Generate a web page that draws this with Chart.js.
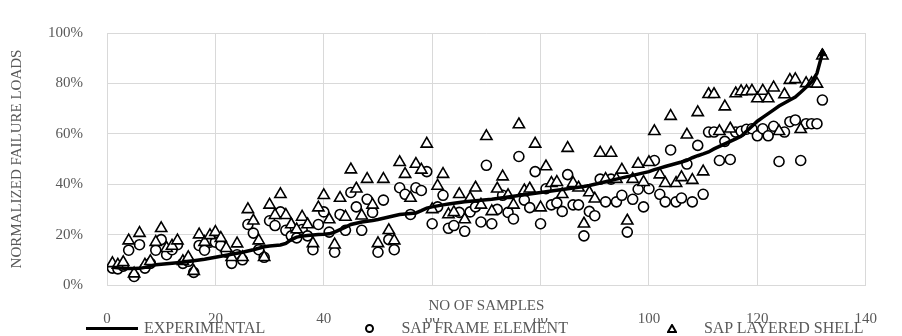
<!DOCTYPE html>
<html>
<head>
<meta charset="utf-8">
<title>Normalized failure loads</title>
<script src="https://cdn.jsdelivr.net/npm/chart.js@4"></script>
<style>
  body { margin: 0; background: #fff; }
  #wrap { position: relative; width: 902px; height: 336px; }
  #legend {
    position: absolute; left: 86px; top: 320px;
    display: flex; gap: 78px;
    font: 16px "Liberation Serif", "Times New Roman", serif;
    color: #595959; line-height: 16px; white-space: nowrap;
  }
  .item { display: flex; align-items: center; }
  .sym { width: 52px; height: 16px; display: flex; align-items: center; justify-content: center; margin-right: 6px; }
  .sym.line span { width: 52px; height: 3px; background: #000; }
  .sym.circle span { width: 5px; height: 5px; border: 2px solid #000; border-radius: 50%; }
</style>
</head>
<body>
<div id="wrap">
  <canvas id="chart" width="902" height="336"></canvas>
  <div id="legend"></div>
</div>
<script>
// EIXOS
const xTitle = "NO OF SAMPLES";
const yTitle = "NORMALIZED FAILURE LOADS";
const xTicks = [0, 20, 40, 60, 80, 100, 120, 140];
const yTicks = [0, 20, 40, 60, 80, 100];

// ENSAIOS (% da carga de rotura, amostras ordenadas)
const experimental = [
    7.0, 6.8, 6.6, 6.5, 6.5, 6.6, 7.0, 7.5, 8.0, 8.2,
    8.4, 8.6, 8.8, 9.0, 9.3, 9.6, 9.9, 10.2, 10.6, 11.0,
    11.4, 11.8, 12.2, 12.6, 13.0, 13.5, 14.0, 14.6, 15.2, 15.5,
    15.7, 15.9, 16.5, 18.0, 19.0, 19.4, 19.6, 19.8, 20.0, 20.1,
    20.3, 21.0, 22.0, 23.0, 24.0, 24.5, 25.0, 25.3, 25.6, 26.0,
    26.5, 27.0, 27.5, 28.0, 28.2, 28.4, 28.6, 29.5, 30.5, 31.0,
    31.4, 31.8, 32.1, 32.4, 32.7, 33.0, 33.2, 33.4, 33.6, 33.8,
    34.0, 34.3, 34.6, 34.9, 35.2, 35.5, 35.8, 36.1, 36.4, 36.7,
    37.0, 37.3, 37.6, 37.9, 38.2, 38.5, 38.8, 39.1, 39.5, 40.0,
    40.5, 41.0, 41.5, 42.0, 42.5, 43.0, 43.5, 44.0, 44.5, 45.0,
    45.8, 46.4, 47.0, 47.6, 48.2, 48.8, 49.5, 50.5, 51.3, 52.0,
    52.8, 54.0, 55.0, 56.0, 57.0, 58.0, 59.0, 61.0, 63.0, 65.0,
    66.5, 68.0, 69.5, 71.0, 72.2, 73.4, 74.6, 76.5, 78.5, 80.5,
    84.0, 92.0
];

// SAP - ELEMENTO DE PÓRTICO
const sapFrame = [
    6.7, 6.4, 7.5, 13.8, 3.4, 16.0, 6.7, 8.6, 13.8, 18.0,
    12.0, 14.0, 16.0, 8.6, 9.4, 5.0, 15.7, 13.8, 17.0, 17.0,
    15.7, 13.0, 8.6, 12.0, 10.0, 24.0, 20.6, 14.0, 11.0, 25.5,
    23.6, 29.0, 21.7, 19.5, 18.7, 22.0, 19.5, 14.0, 24.0, 29.0,
    21.0, 13.0, 28.0, 21.7, 36.7, 31.0, 21.7, 34.0, 28.8, 13.0,
    33.7, 18.0, 14.0, 38.6, 36.0, 28.0, 38.6, 37.5, 45.0, 24.3,
    31.0, 35.6, 22.5, 23.6, 28.8, 21.3, 29.0, 31.0, 25.0, 47.5,
    24.3, 30.0, 35.6, 28.8, 26.2, 51.0, 33.7, 30.7, 45.0, 24.3,
    38.2, 31.8, 32.6, 29.2, 43.8, 31.8, 31.8, 19.5, 29.2, 27.5,
    42.0, 33.0, 42.0, 33.0, 35.6, 21.0, 34.0, 38.0, 31.0, 38.2,
    49.4, 36.0, 33.0, 53.6, 33.0, 34.5, 48.0, 33.0, 55.4, 36.0,
    60.7, 60.7, 49.4, 57.0, 49.8, 60.7, 61.0, 61.8, 62.0, 59.2,
    62.0, 59.2, 63.0, 49.0, 60.7, 64.8, 65.5, 49.4, 64.0, 64.0,
    64.0, 73.4
];

// SAP - CASCA MULTICAMADA
const sapShell = [
    8.6, 8.0, 9.0, 17.6, 4.5, 20.6, 8.0, 9.4, 17.0, 22.5,
    14.6, 15.5, 17.6, 9.4, 11.0, 5.5, 20.0, 17.0, 19.7, 21.0,
    18.6, 14.6, 11.0, 16.4, 11.0, 30.0, 25.5, 17.6, 11.0, 31.8,
    27.7, 36.0, 27.7, 24.0, 22.0, 27.0, 24.0, 16.5, 30.7, 35.6,
    26.0, 16.0, 34.5, 27.0, 45.8, 38.2, 27.5, 42.0, 31.8, 16.5,
    42.0, 21.7, 17.6, 48.7, 44.0, 34.5, 48.0, 45.7, 56.0, 30.0,
    39.3, 44.0, 28.0, 28.8, 36.0, 26.0, 34.5, 38.6, 31.8, 59.0,
    29.2, 38.2, 43.0, 35.6, 31.8, 63.7, 37.5, 38.2, 56.0, 30.7,
    47.0, 40.4, 40.8, 36.0, 54.3, 40.4, 38.6, 24.3, 36.7, 34.2,
    52.4, 42.0, 52.4, 42.0, 45.7, 25.5, 42.0, 48.0, 40.8, 48.7,
    61.0, 43.8, 40.4, 67.0, 40.4, 42.7, 59.6, 41.6, 68.5, 45.0,
    75.7, 75.7, 61.0, 70.8, 62.0, 76.0, 76.8, 76.8, 77.0, 74.0,
    77.0, 74.0, 78.3, 61.0, 75.6, 81.3, 81.6, 61.8, 80.0, 80.0,
    79.8, 91.0
];

const font = { family: "'Liberation Serif', 'Times New Roman', serif", size: 15 };
const textColor = "#595959";
const gridColor = "#d9d9d9";

// nº da amostra no eixo x
function toPoints(values) {
    return values.map((v, i) => ({ x: i + 1, y: v }));
}

// título do eixo x por cima das etiquetas, com fundo branco
const xTitlePlugin = {
    id: "xTitle",
    afterDraw(chart) {
        const { ctx, chartArea } = chart;
        ctx.save();
        ctx.font = `${font.size}px ${font.family}`;
        const w = ctx.measureText(xTitle).width;
        const cx = (chartArea.left + chartArea.right) / 2;
        const cy = chartArea.bottom + 21;
        ctx.fillStyle = "#fff";
        ctx.fillRect(cx - w / 2 - 4, cy - 11, w + 8, 23);
        ctx.fillStyle = textColor;
        ctx.textAlign = "center";
        ctx.textBaseline = "middle";
        ctx.fillText(xTitle, cx, cy);
        ctx.restore();
    }
};

// LEGENDA
function buildLegend(chart) {
    const box = document.getElementById("legend");
    chart.data.datasets.forEach(ds => {
        const item = document.createElement("div");
        item.className = "item";
        const sym = document.createElement("div");
        if (ds.showLine) {
            sym.className = "sym line";
            sym.innerHTML = "<span></span>";
        } else if (ds.pointStyle === "circle") {
            sym.className = "sym circle";
            sym.innerHTML = "<span></span>";
        } else {
            sym.className = "sym";
            sym.innerHTML = '<svg width="10" height="9"><polygon points="5,1 9,8 1,8" fill="none" stroke="#000" stroke-width="2"/></svg>';
        }
        const label = document.createElement("span");
        label.innerText = ds.label;
        item.appendChild(sym);
        item.appendChild(label);
        box.appendChild(item);
    });
}

// GRÁFICO
function loadChart() {
    const last = experimental.length - 1;

    const chart = new Chart(document.getElementById("chart"), {
        type: "scatter",
        data: {
            datasets: [
                {
                    label: "EXPERIMENTAL",
                    data: toPoints(experimental),
                    showLine: true,
                    borderColor: "#000",
                    backgroundColor: "#000",
                    borderWidth: 3.5,
                    pointStyle: "triangle",
                    pointRadius: ctx => (ctx.dataIndex === last ? 5 : 0),
                    pointBorderWidth: 1,
                    order: 0
                },
                {
                    label: "SAP FRAME ELEMENT",
                    data: toPoints(sapFrame),
                    pointStyle: "circle",
                    pointRadius: 5,
                    pointBorderWidth: 1.6,
                    borderColor: "#000",
                    backgroundColor: "#fff",
                    order: 2
                },
                {
                    label: "SAP LAYERED SHELL",
                    data: toPoints(sapShell),
                    pointStyle: "triangle",
                    pointRadius: 6.5,
                    pointBorderWidth: 1.6,
                    borderColor: "#000",
                    backgroundColor: "#fff",
                    order: 1
                }
            ]
        },
        options: {
            responsive: false,
            animation: false,
            layout: { padding: { top: 18, right: 15, bottom: 0, left: 0 } },
            plugins: {
                legend: { display: false },
                tooltip: { enabled: false }
            },
            scales: {
                x: {
                    type: "linear",
                    min: xTicks[0],
                    max: xTicks[xTicks.length - 1],
                    afterBuildTicks: s => { s.ticks = xTicks.map(v => ({ value: v })); },
                    ticks: { padding: 25, color: textColor, font },
                    grid: { color: gridColor, drawTicks: false },
                    border: { color: gridColor },
                    afterFit: s => { s.height = 51; }
                },
                y: {
                    min: yTicks[0],
                    max: yTicks[yTicks.length - 1],
                    afterBuildTicks: s => { s.ticks = yTicks.map(v => ({ value: v })); },
                    ticks: { padding: 24, color: textColor, font, callback: v => v + "%" },
                    grid: { color: gridColor, drawTicks: false },
                    border: { color: gridColor },
                    title: { display: true, text: yTitle, color: textColor, font, padding: { top: 8, bottom: 0 } },
                    afterFit: s => { s.width = 107; }
                }
            }
        },
        plugins: [xTitlePlugin]
    });

    buildLegend(chart);
}

// INIT
window.onload = () => {
    loadChart();
};
</script>
</body>
</html>
